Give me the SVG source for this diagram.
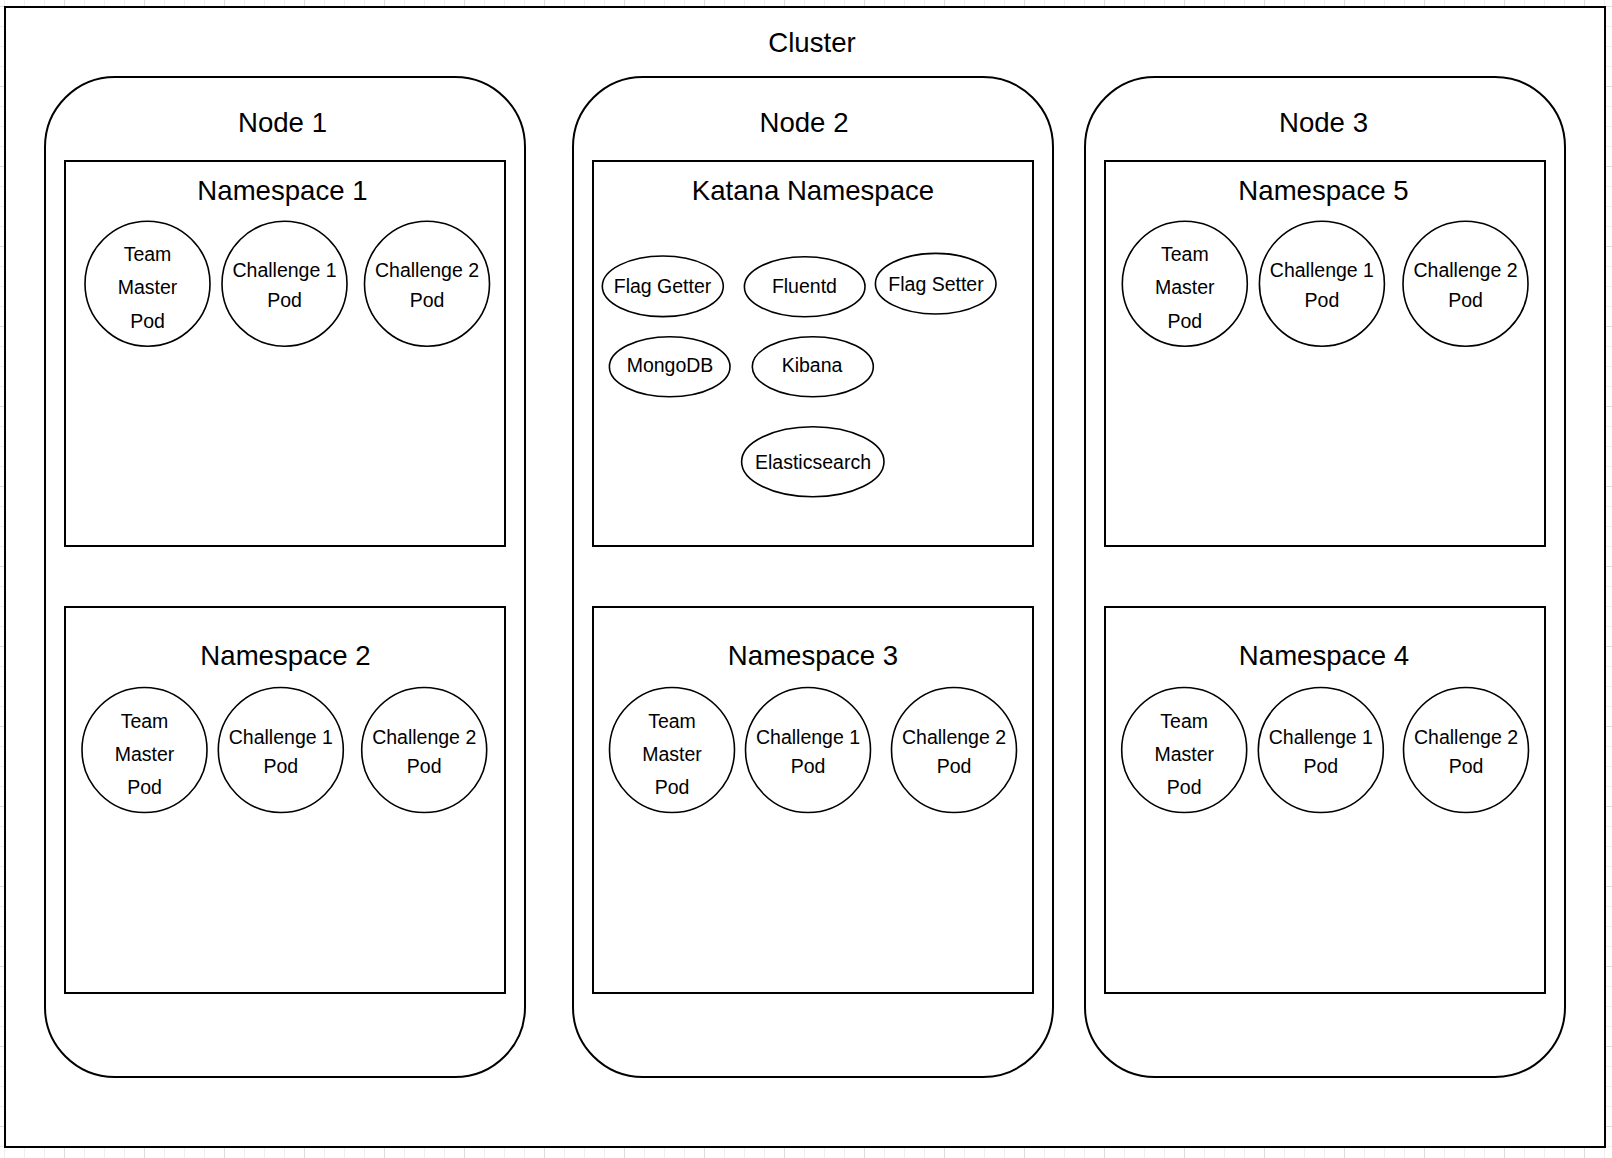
<svg xmlns="http://www.w3.org/2000/svg" width="1612" height="1158" viewBox="0 0 1612 1158">
  <defs>
    <pattern id="gridMinor" patternUnits="userSpaceOnUse" x="4" y="6" width="20" height="20">
      <path d="M0 0.5 H20 M0.5 0 V20" fill="none" stroke="#efefef" stroke-width="1"/>
    </pattern>
    <pattern id="gridMajor" patternUnits="userSpaceOnUse" x="64" y="6" width="80" height="80">
      <path d="M0 0.5 H80 M0.5 0 V80" fill="none" stroke="#dedede" stroke-width="1"/>
    </pattern>
  </defs>
  <style>
    .box { fill: #ffffff; stroke: #000000; stroke-width: 2; }
    .pod { fill: #ffffff; stroke: #000000; stroke-width: 1.6; }
    .title { font-family: "Liberation Sans", Arial, sans-serif; font-size: 27.6px; fill: #000000; text-anchor: middle; }
    .label { font-family: "Liberation Sans", Arial, sans-serif; font-size: 19.5px; fill: #000000; text-anchor: middle; }
  </style>

  <rect width="1612" height="1158" fill="#ffffff"/>
  <rect width="1612" height="1158" fill="url(#gridMinor)"/>
  <rect width="1612" height="1158" fill="url(#gridMajor)"/>

  <g id="cluster">
    <rect class="box" x="5" y="7" width="1600" height="1140"/>
    <text class="title" x="812" y="52">Cluster</text>
  </g>

  <g id="node1">
    <rect class="box" x="45" y="77" width="480" height="1000" rx="70" ry="70"/>
    <text class="title" x="282.5" y="131.5">Node 1</text>
  </g>
  <g id="node2">
    <rect class="box" x="573" y="77" width="480" height="1000" rx="70" ry="70"/>
    <text class="title" x="804" y="131.5">Node 2</text>
  </g>
  <g id="node3">
    <rect class="box" x="1085" y="77" width="480" height="1000" rx="70" ry="70"/>
    <text class="title" x="1323.5" y="131.5">Node 3</text>
  </g>

  <!-- Namespace 1 -->
  <g id="namespace1">
    <rect class="box" x="65" y="161" width="440" height="385"/>
    <text class="title" x="282.5" y="200">Namespace 1</text>
  </g>
  <g id="ns1-team-master-pod">
    <circle class="pod" cx="147.5" cy="283.7" r="62.5"/>
    <text class="label" x="147.5" y="261.4">Team</text>
    <text class="label" x="147.5" y="294.2">Master</text>
    <text class="label" x="147.5" y="327.7">Pod</text>
  </g>
  <g id="ns1-challenge1-pod">
    <circle class="pod" cx="284.5" cy="283.7" r="62.5"/>
    <text class="label" x="284.5" y="277.4">Challenge 1</text>
    <text class="label" x="284.5" y="306.7">Pod</text>
  </g>
  <g id="ns1-challenge2-pod">
    <circle class="pod" cx="427" cy="283.7" r="62.5"/>
    <text class="label" x="427" y="277.4">Challenge 2</text>
    <text class="label" x="427" y="306.7">Pod</text>
  </g>

  <!-- Namespace 2 -->
  <g id="namespace2">
    <rect class="box" x="65" y="607" width="440" height="386"/>
    <text class="title" x="285.5" y="665">Namespace 2</text>
  </g>
  <g id="ns2-team-master-pod">
    <circle class="pod" cx="144.5" cy="750" r="62.5"/>
    <text class="label" x="144.5" y="727.7">Team</text>
    <text class="label" x="144.5" y="760.5">Master</text>
    <text class="label" x="144.5" y="794">Pod</text>
  </g>
  <g id="ns2-challenge1-pod">
    <circle class="pod" cx="280.8" cy="750" r="62.5"/>
    <text class="label" x="280.8" y="743.7">Challenge 1</text>
    <text class="label" x="280.8" y="773">Pod</text>
  </g>
  <g id="ns2-challenge2-pod">
    <circle class="pod" cx="424.2" cy="750" r="62.5"/>
    <text class="label" x="424.2" y="743.7">Challenge 2</text>
    <text class="label" x="424.2" y="773">Pod</text>
  </g>

  <!-- Katana Namespace -->
  <g id="katana-namespace">
    <rect class="box" x="593" y="161" width="440" height="385"/>
    <text class="title" x="813" y="200">Katana Namespace</text>
  </g>
  <g id="flag-getter">
    <ellipse class="pod" cx="662.8" cy="286.3" rx="60.5" ry="30.3"/>
    <text class="label" x="662.5" y="292.7">Flag Getter</text>
  </g>
  <g id="fluentd">
    <ellipse class="pod" cx="804.7" cy="286.7" rx="60.3" ry="30"/>
    <text class="label" x="804.4" y="292.7">Fluentd</text>
  </g>
  <g id="flag-setter">
    <ellipse class="pod" cx="935.7" cy="283.7" rx="60.3" ry="30.3"/>
    <text class="label" x="936" y="290.7">Flag Setter</text>
  </g>
  <g id="mongodb">
    <ellipse class="pod" cx="669.7" cy="366.7" rx="60.3" ry="30"/>
    <text class="label" x="670" y="372.3">MongoDB</text>
  </g>
  <g id="kibana">
    <ellipse class="pod" cx="812.8" cy="366.7" rx="60.5" ry="30"/>
    <text class="label" x="812" y="372.3">Kibana</text>
  </g>
  <g id="elasticsearch">
    <ellipse class="pod" cx="812.8" cy="461.7" rx="71.2" ry="35"/>
    <text class="label" x="813" y="469">Elasticsearch</text>
  </g>

  <!-- Namespace 3 -->
  <g id="namespace3">
    <rect class="box" x="593" y="607" width="440" height="386"/>
    <text class="title" x="813" y="665">Namespace 3</text>
  </g>
  <g id="ns3-team-master-pod">
    <circle class="pod" cx="672" cy="750" r="62.5"/>
    <text class="label" x="672" y="727.7">Team</text>
    <text class="label" x="672" y="760.5">Master</text>
    <text class="label" x="672" y="794">Pod</text>
  </g>
  <g id="ns3-challenge1-pod">
    <circle class="pod" cx="808" cy="750" r="62.5"/>
    <text class="label" x="808" y="743.7">Challenge 1</text>
    <text class="label" x="808" y="773">Pod</text>
  </g>
  <g id="ns3-challenge2-pod">
    <circle class="pod" cx="954" cy="750" r="62.5"/>
    <text class="label" x="954" y="743.7">Challenge 2</text>
    <text class="label" x="954" y="773">Pod</text>
  </g>

  <!-- Namespace 5 -->
  <g id="namespace5">
    <rect class="box" x="1105" y="161" width="440" height="385"/>
    <text class="title" x="1323.5" y="200">Namespace 5</text>
  </g>
  <g id="ns5-team-master-pod">
    <circle class="pod" cx="1184.8" cy="283.7" r="62.5"/>
    <text class="label" x="1184.8" y="261.4">Team</text>
    <text class="label" x="1184.8" y="294.2">Master</text>
    <text class="label" x="1184.8" y="327.7">Pod</text>
  </g>
  <g id="ns5-challenge1-pod">
    <circle class="pod" cx="1321.9" cy="283.7" r="62.5"/>
    <text class="label" x="1321.9" y="277.4">Challenge 1</text>
    <text class="label" x="1321.9" y="306.7">Pod</text>
  </g>
  <g id="ns5-challenge2-pod">
    <circle class="pod" cx="1465.5" cy="283.7" r="62.5"/>
    <text class="label" x="1465.5" y="277.4">Challenge 2</text>
    <text class="label" x="1465.5" y="306.7">Pod</text>
  </g>

  <!-- Namespace 4 -->
  <g id="namespace4">
    <rect class="box" x="1105" y="607" width="440" height="386"/>
    <text class="title" x="1324" y="665">Namespace 4</text>
  </g>
  <g id="ns4-team-master-pod">
    <circle class="pod" cx="1184.2" cy="750" r="62.5"/>
    <text class="label" x="1184.2" y="727.7">Team</text>
    <text class="label" x="1184.2" y="760.5">Master</text>
    <text class="label" x="1184.2" y="794">Pod</text>
  </g>
  <g id="ns4-challenge1-pod">
    <circle class="pod" cx="1320.8" cy="750" r="62.5"/>
    <text class="label" x="1320.8" y="743.7">Challenge 1</text>
    <text class="label" x="1320.8" y="773">Pod</text>
  </g>
  <g id="ns4-challenge2-pod">
    <circle class="pod" cx="1466" cy="750" r="62.5"/>
    <text class="label" x="1466" y="743.7">Challenge 2</text>
    <text class="label" x="1466" y="773">Pod</text>
  </g>

  <g id="connectors"></g>
</svg>
